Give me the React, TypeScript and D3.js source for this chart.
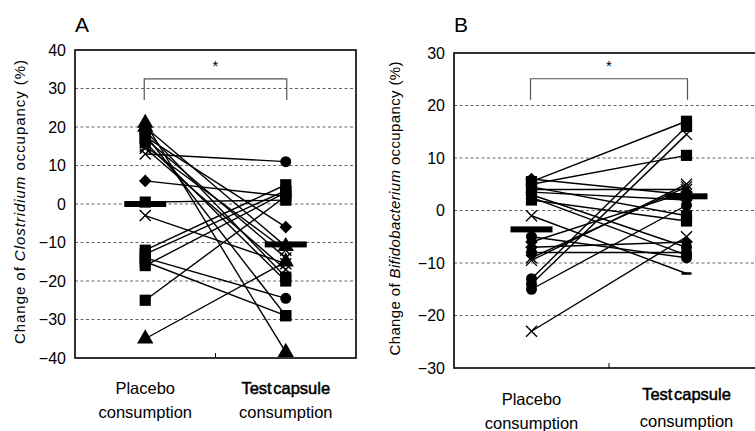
import React from 'react';
import * as d3 from 'd3';

// Panel A: change of Clostridium occupancy (%)
const placeboA = [21, 19, 18, 17, 16, 14.5, 13, 6, -3, -12, -13, -14, -15, -16, -25, -35, 20, 17.5, 0.5, 15];
const testA = [-38.5, -19, -29, -14, -20, -17, 11, 2, -15.5, 5, 3.5, -24.5, -29, 3, 2, -15, -11, -6, 1, -12];
const shapePlaceboA = ['triangle', 'square', 'square', 'x', 'square', 'x', 'x', 'diamond', 'x', 'square', 'square', 'square', 'square', 'square', 'square', 'triangle', 'triangle', 'square', 'square', 'x'];
const shapeTestA = ['triangle', 'square', 'square', 'x', 'square', 'x', 'circle', 'square', 'x', 'square', 'square', 'circle', 'square', 'square', 'square', 'triangle', 'triangle', 'diamond', 'square', 'x'];
const meanA = [0, -10.5];

// Panel B: change of Bifidobacterium occupancy (%)
const placeboB = [6, 5.5, 5, 4.5, 4, 3.5, 3, 2.5, 2, -1, -6, -7, -8, -9, -9.5, -13, -14, -15, -23, -5];
const testB = [3, 17, 10.5, -1, 4, 2, -7, -8.5, -2, -12, 3.5, -6, -8, 4.5, 5, 16, 14.5, 1, -5, -9];
const shapePlaceboB = ['diamond', 'square', 'square', 'square', 'x', 'diamond', 'circle', 'circle', 'square', 'x', 'diamond', 'diamond', 'circle', 'x', 'x', 'circle', 'circle', 'circle', 'x', 'circle'];
const shapeTestB = ['diamond', 'square', 'square', 'square', 'x', 'diamond', 'circle', 'circle', 'square', 'dash', 'diamond', 'diamond', 'circle', 'x', 'x', 'square', 'x', 'circle', 'x', 'circle'];
const meanB = [-3.6, 2.7];

const categories = ['Placebo', 'Test capsule'];
const ticksA = [-40, -30, -20, -10, 0, 10, 20, 30, 40];
const ticksB = [-30, -20, -10, 0, 10, 20, 30];

const font = 'Liberation Sans, Arial, sans-serif';

const Marker = ({ shape, x, y }: { shape: string; x: number; y: number }) => {
  if (shape === 'x') {
    const r = 5.5;
    return (
      <g stroke="#000" strokeWidth={1.4}>
        <line x1={x - r} y1={y - r} x2={x + r} y2={y + r} />
        <line x1={x - r} y1={y + r} x2={x + r} y2={y - r} />
      </g>
    );
  }
  if (shape === 'dash') {
    return <line x1={x - 5} x2={x + 5} y1={y} y2={y} stroke="#000" strokeWidth={2.5} />;
  }
  let path: string | null = null;
  if (shape === 'square') path = d3.symbol().type(d3.symbolSquare).size(125)();
  if (shape === 'triangle') path = d3.symbol().type(d3.symbolTriangle).size(115)();
  if (shape === 'circle') path = d3.symbol().type(d3.symbolCircle).size(95)();
  if (shape === 'diamond') path = d3.symbol().type(d3.symbolSquare).size(80)();
  const rot = shape === 'diamond' ? ' rotate(45)' : '';
  return <path d={path || ''} transform={`translate(${x},${y})${rot}`} fill="#000" />;
};

type PanelProps = {
  letter: string;
  left: number;
  right: number;
  top: number;
  bottom: number;
  domain: [number, number];
  ticks: number[];
  placebo: number[];
  test: number[];
  shapeP: string[];
  shapeT: string[];
  mean: number[];
  bracket: [number, number];
  genus: string;
  labelX: number;
  labelLen: number;
  catY: [number, number];
};

const Panel = (p: PanelProps) => {
  const y = d3.scaleLinear().domain(p.domain).range([p.bottom, p.top]);
  const x = d3.scalePoint<string>().domain(categories).range([p.left, p.right]).padding(0.5);
  const x0 = x(categories[0]) as number;
  const x1 = x(categories[1]) as number;
  const mid = (p.left + p.right) / 2;
  const labelCy = (p.top + p.bottom) / 2 - 2;
  return (
    <g>
      <text x={p.left + 7} y={32} fontSize={21} fontFamily={font} textAnchor="middle">{p.letter}</text>
      {p.ticks.slice(1, -1).map((t) => (
        <line key={t} x1={p.left} x2={p.right} y1={y(t)} y2={y(t)} stroke="#666" strokeWidth={1} strokeDasharray="3,2.5" />
      ))}
      {p.ticks.map((t) => (
        <text key={t} x={p.left - 9} y={y(t) + 5.5} fontSize={16} fontFamily={font} textAnchor="end">
          {t < 0 ? `\u2212${-t}` : t}
        </text>
      ))}
      <text
        transform={`translate(${p.labelX},${labelCy}) rotate(-90)`}
        fontSize={15}
        fontFamily={font}
        textAnchor="middle"
        textLength={p.labelLen}
        lengthAdjust="spacing"
      >
        Change of <tspan fontStyle="italic">{p.genus}</tspan> occupancy (%)
      </text>
      {p.placebo.map((v, i) => (
        <line key={i} x1={x0} y1={y(v)} x2={x1} y2={y(p.test[i])} stroke="#000" strokeWidth={1.4} />
      ))}
      {p.placebo.map((v, i) => (
        <Marker key={'p' + i} shape={p.shapeP[i]} x={x0} y={y(v)} />
      ))}
      {p.test.map((v, i) => (
        <Marker key={'t' + i} shape={p.shapeT[i]} x={x1} y={y(v)} />
      ))}
      {p.mean.map((m, i) => (
        <rect key={'m' + i} x={(i === 0 ? x0 : x1) - 21} y={y(m) - 3} width={42} height={6} fill="#000" />
      ))}
      <path
        d={`M${x0 - 1},${y(p.bracket[0])}V${y(p.bracket[1])}H${x1 + 1}V${y(p.bracket[0])}`}
        fill="none"
        stroke="#555"
        strokeWidth={1.2}
      />
      <text x={mid} y={y(p.bracket[1]) - 8} fontSize={15} fontFamily={font} textAnchor="middle">*</text>
      <rect x={p.left} y={p.top} width={p.right - p.left} height={p.bottom - p.top} fill="none" stroke="#000" strokeWidth={1.6} />
      <line x1={mid} x2={mid} y1={p.bottom} y2={p.bottom - 5} stroke="#000" strokeWidth={1} />
      <text x={x0} y={p.catY[0]} fontSize={16.5} fontFamily={font} textAnchor="middle">
        Placebo
        <tspan x={x0} dy={24}>consumption</tspan>
      </text>
      <text x={x1} y={p.catY[1]} fontSize={16.5} fontFamily={font} textAnchor="middle">
        <tspan stroke="#000" strokeWidth={0.5} wordSpacing={-3}>Test capsule</tspan>
        <tspan x={x1} dy={p.letter === 'A' ? 24 : 27}>consumption</tspan>
      </text>
    </g>
  );
};

export default function App() {
  return (
    <svg width={755} height={431} style={{ position: 'absolute', left: 0, top: 0, background: '#fff' }}>
      <rect width={755} height={431} fill="#fff" />
      <Panel
        letter="A"
        left={75}
        right={356}
        top={50}
        bottom={358}
        domain={[-40, 40]}
        ticks={ticksA}
        placebo={placeboA}
        test={testA}
        shapeP={shapePlaceboA}
        shapeT={shapeTestA}
        mean={meanA}
        bracket={[27, 32.5]}
        genus="Clostridium"
        labelX={25}
        labelLen={284}
        catY={[394, 394]}
      />
      <Panel
        letter="B"
        left={454}
        right={764}
        top={53}
        bottom={368}
        domain={[-30, 30]}
        ticks={ticksB}
        placebo={placeboB}
        test={testB}
        shapeP={shapePlaceboB}
        shapeT={shapeTestB}
        mean={meanB}
        bracket={[21.1, 25.1]}
        genus="Bifidobacterium"
        labelX={400}
        labelLen={294}
        catY={[405, 400]}
      />
    </svg>
  );
}
